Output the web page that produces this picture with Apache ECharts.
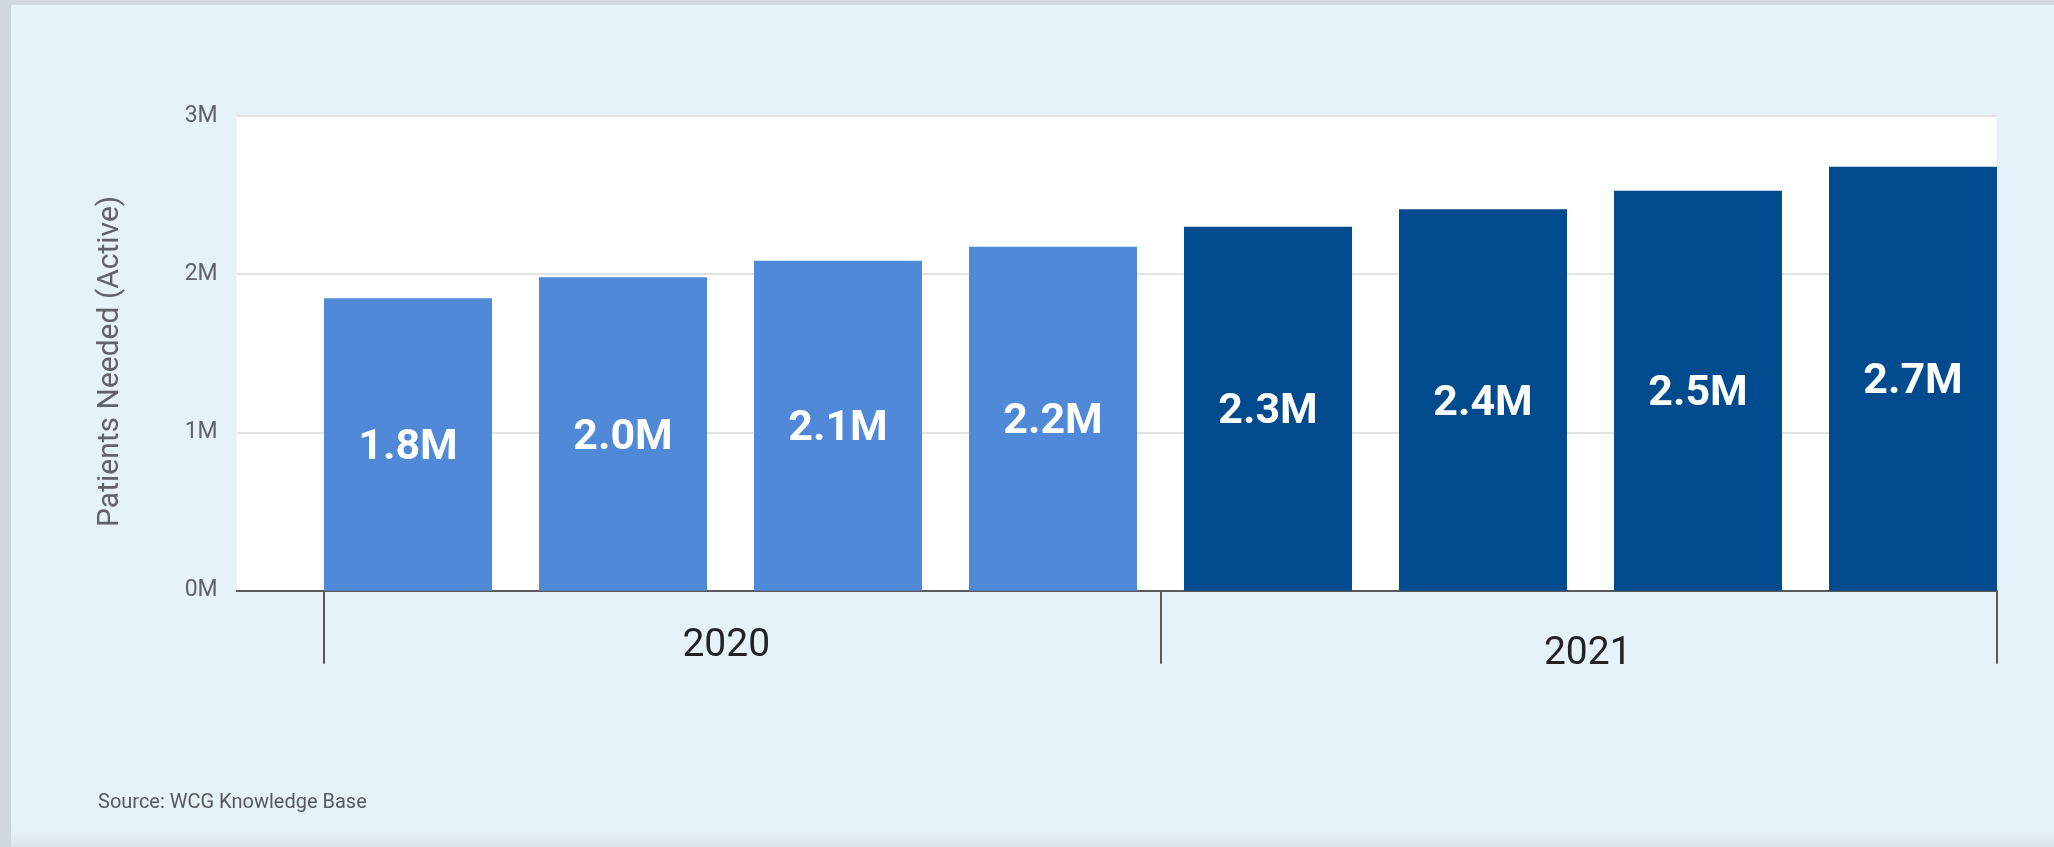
<!DOCTYPE html>
<html>
<head>
<meta charset="utf-8">
<script src="https://cdn.jsdelivr.net/npm/echarts@6/dist/echarts.min.js"></script>
<style>
  html, body { margin: 0; padding: 0; background: #e5f2f8; }
  #chart { width: 2054px; height: 847px; }
</style>
</head>
<body>
<div id="chart"></div>
<script>
// ---- data ----
const categories = ['Q1 2020', 'Q2 2020', 'Q3 2020', 'Q4 2020', 'Q1 2021', 'Q2 2021', 'Q3 2021', 'Q4 2021'];
const categoryYears = ['2020', '2020', '2020', '2020', '2021', '2021', '2021', '2021'];
const patientsNeeded = [1848000, 1981000, 2086000, 2174000, 2300000, 2410000, 2528000, 2680000];
const yearLabels = ['2020', '2021'];
const yTicks = [0, 1000000, 2000000, 3000000];
const yAxisTitle = 'Patients Needed (Active)';
const sourceNote = 'Source: WCG Knowledge Base';

const yearColors = { '2020': '#4f89d8', '2021': '#004b8d' };
const yearLabelPadding = { '2020': [0, 32, 0, 0], '2021': [8, 0, 0, 18] };
const FONT = 'Roboto, "Noto Sans", sans-serif';

const GRID_TOP = 116, GRID_H = 474.7;
const yMin = yTicks[0], yMax = yTicks[yTicks.length - 1], yInt = yTicks[1] - yTicks[0];

const chart = echarts.init(document.getElementById('chart'), null, { renderer: 'canvas' });

chart.setOption({
  backgroundColor: '#e5f2f8',
  animation: false,
  graphic: [
    { type: 'rect', left: 0, top: 0, shape: { width: 2054, height: 5 }, style: { fill: '#d0d9e1' }, z: 0 },
    { type: 'rect', left: 0, top: 0, shape: { width: 11, height: 847 }, style: { fill: '#cfd7df' }, z: 0 },
    { type: 'rect', left: 11, top: 826, shape: { width: 2043, height: 21 },
      style: { fill: new echarts.graphic.LinearGradient(0, 0, 0, 1, [
        { offset: 0, color: 'rgba(229,242,248,0)' }, { offset: 1, color: '#d9e3e8' }]) }, z: 0 },
    { type: 'text', left: 98, top: 793,
      style: { text: sourceNote, fill: '#55595e', font: '20px ' + FONT }, z: 10 }
  ],
  grid: [
    { left: 236.7, top: GRID_TOP, width: 1760, height: GRID_H, show: true, backgroundColor: '#ffffff', borderWidth: 0 },
    { left: 300.5, top: GRID_TOP, width: 1720, height: GRID_H },
    { left: 324, top: GRID_TOP, width: 1673, height: GRID_H }
  ],
  xAxis: [
    { type: 'category', gridIndex: 0, data: categories,
      axisLine: { show: true, lineStyle: { color: '#5a5a5a', width: 2 } },
      axisTick: { show: false }, axisLabel: { show: false }, splitLine: { show: false } },
    { type: 'category', gridIndex: 1, data: categories, show: false },
    { type: 'category', gridIndex: 2, position: 'bottom',
      data: yearLabels.map(y => ({ value: y, textStyle: { padding: yearLabelPadding[y] } })),
      axisLine: { show: false },
      axisTick: { show: true, length: 73, lineStyle: { color: '#5a5a5a', width: 2 } },
      axisLabel: { color: '#222222', fontSize: 39, fontFamily: FONT, margin: 36 } }
  ],
  yAxis: [
    { type: 'value', gridIndex: 0, min: yMin, max: yMax, interval: yInt,
      name: yAxisTitle, nameLocation: 'middle', nameGap: 111,
      nameTextStyle: { color: '#5f6368', fontSize: 30, fontFamily: FONT, padding: [0, 16, 0, 0] },
      axisLine: { show: false }, axisTick: { show: false },
      axisLabel: { color: '#5f6368', fontSize: 23, fontFamily: FONT, margin: 19,
        formatter: v => (v / 1000000) + 'M' },
      splitLine: { show: true, lineStyle: { color: '#e2e2e2', width: 2 } } },
    { type: 'value', gridIndex: 1, min: yMin, max: yMax, interval: yInt, show: false, splitLine: { show: false } },
    { type: 'value', gridIndex: 2, min: yMin, max: yMax, interval: yInt, show: false, splitLine: { show: false } }
  ],
  series: [
    { type: 'bar', xAxisIndex: 1, yAxisIndex: 1, barWidth: 168,
      data: patientsNeeded.map((v, i) => ({ value: v, itemStyle: { color: yearColors[categoryYears[i]] } })),
      label: { show: true, position: 'inside', offset: [0, 4], color: '#ffffff', fontSize: 43, fontWeight: 'bold', fontFamily: FONT,
        formatter: p => (p.value / 1000000).toFixed(1) + 'M' },
      z: 5 }
  ]
});
</script>
</body>
</html>
